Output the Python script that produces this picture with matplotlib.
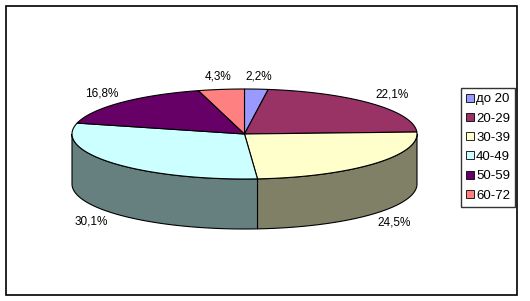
import numpy as np
import matplotlib
matplotlib.use("Agg")
import matplotlib.pyplot as plt
from matplotlib.colors import to_rgb
from matplotlib.patches import Polygon, Rectangle, Patch

plt.rcParams["font.family"] = ["Liberation Sans", "DejaVu Sans"]

# данные: возрастные группы и их доли, %
groups = ["до 20", "20-29", "30-39", "40-49", "50-59", "60-72"]
shares = [2.2, 22.1, 24.5, 30.1, 16.8, 4.3]
colors = ["#9999FF", "#993366", "#FFFFCC", "#CCFFFF", "#660066", "#FF8080"]

# геометрия 3D-круга в пикселях
CX, CY = 244.5, 134.0   # центр верхней грани
A, B = 172.5, 45.0      # полуоси эллипса
DEPTH = 50.0            # толщина
LAB_RX, LAB_RY = 200.0, 58.0


def ell(theta, dy=0.0):
    return np.column_stack([CX + A * np.cos(theta), CY - B * np.sin(theta) + dy])


fig = plt.figure(figsize=(5.30, 3.01), dpi=100)
ax = fig.add_axes([0, 0, 1, 1])
ax.set_xlim(0, 530)
ax.set_ylim(301, 0)
ax.axis("off")

fracs = np.array(shares) / sum(shares)
bounds = np.pi / 2 - 2 * np.pi * np.concatenate([[0], np.cumsum(fracs)])

# боковые грани (только передняя половина)
for i in range(len(shares)):
    t1, t2 = bounds[i], bounds[i + 1]
    segs = []
    for shift in (0.0, 2 * np.pi):
        lo, hi = max(t2 + shift, -np.pi), min(t1 + shift, 0.0)
        if hi > lo:
            segs.append((lo, hi))
    side = tuple(0.5 * c for c in to_rgb(colors[i]))
    for lo, hi in segs:
        th = np.linspace(hi, lo, 80)
        pts = np.vstack([ell(th), ell(th[::-1], DEPTH)])
        ax.add_patch(Polygon(pts, closed=True, facecolor=side,
                             edgecolor="black", lw=0.8, zorder=1))

# верхняя грань
for i in range(len(shares)):
    th = np.linspace(bounds[i], bounds[i + 1], 120)
    pts = np.vstack([[CX, CY], ell(th)])
    ax.add_patch(Polygon(pts, closed=True, facecolor=colors[i],
                         edgecolor="black", lw=0.8, zorder=2))

# подписи долей
for i, v in enumerate(shares):
    mid = (bounds[i] + bounds[i + 1]) / 2
    x = CX + LAB_RX * np.cos(mid)
    y = CY - LAB_RY * np.sin(mid) + (DEPTH if np.sin(mid) < 0 else 0)
    ax.text(x, y, f"{v:.1f}%".replace(".", ","), ha="center", va="center",
            fontsize=8.5, color="black", zorder=3)

# рамка области диаграммы
ax.add_patch(Rectangle((5.5, 5.5), 511, 289.5, fill=False,
                       edgecolor="black", lw=1.2, zorder=4))

handles = [Patch(facecolor=c, edgecolor="black", lw=0.6) for c in colors]
leg = fig.legend(handles, groups, loc="upper left",
                 bbox_to_anchor=(461 / 530, 1 - 88 / 301), borderaxespad=0,
                 fontsize=9.5, frameon=True, fancybox=False,
                 handlelength=0.55, handleheight=0.55, handletextpad=0.2,
                 labelspacing=0.55, borderpad=0.4)
leg.get_frame().set_edgecolor("black")
leg.get_frame().set_linewidth(1.0)

fig.savefig("out.png", dpi=100)
